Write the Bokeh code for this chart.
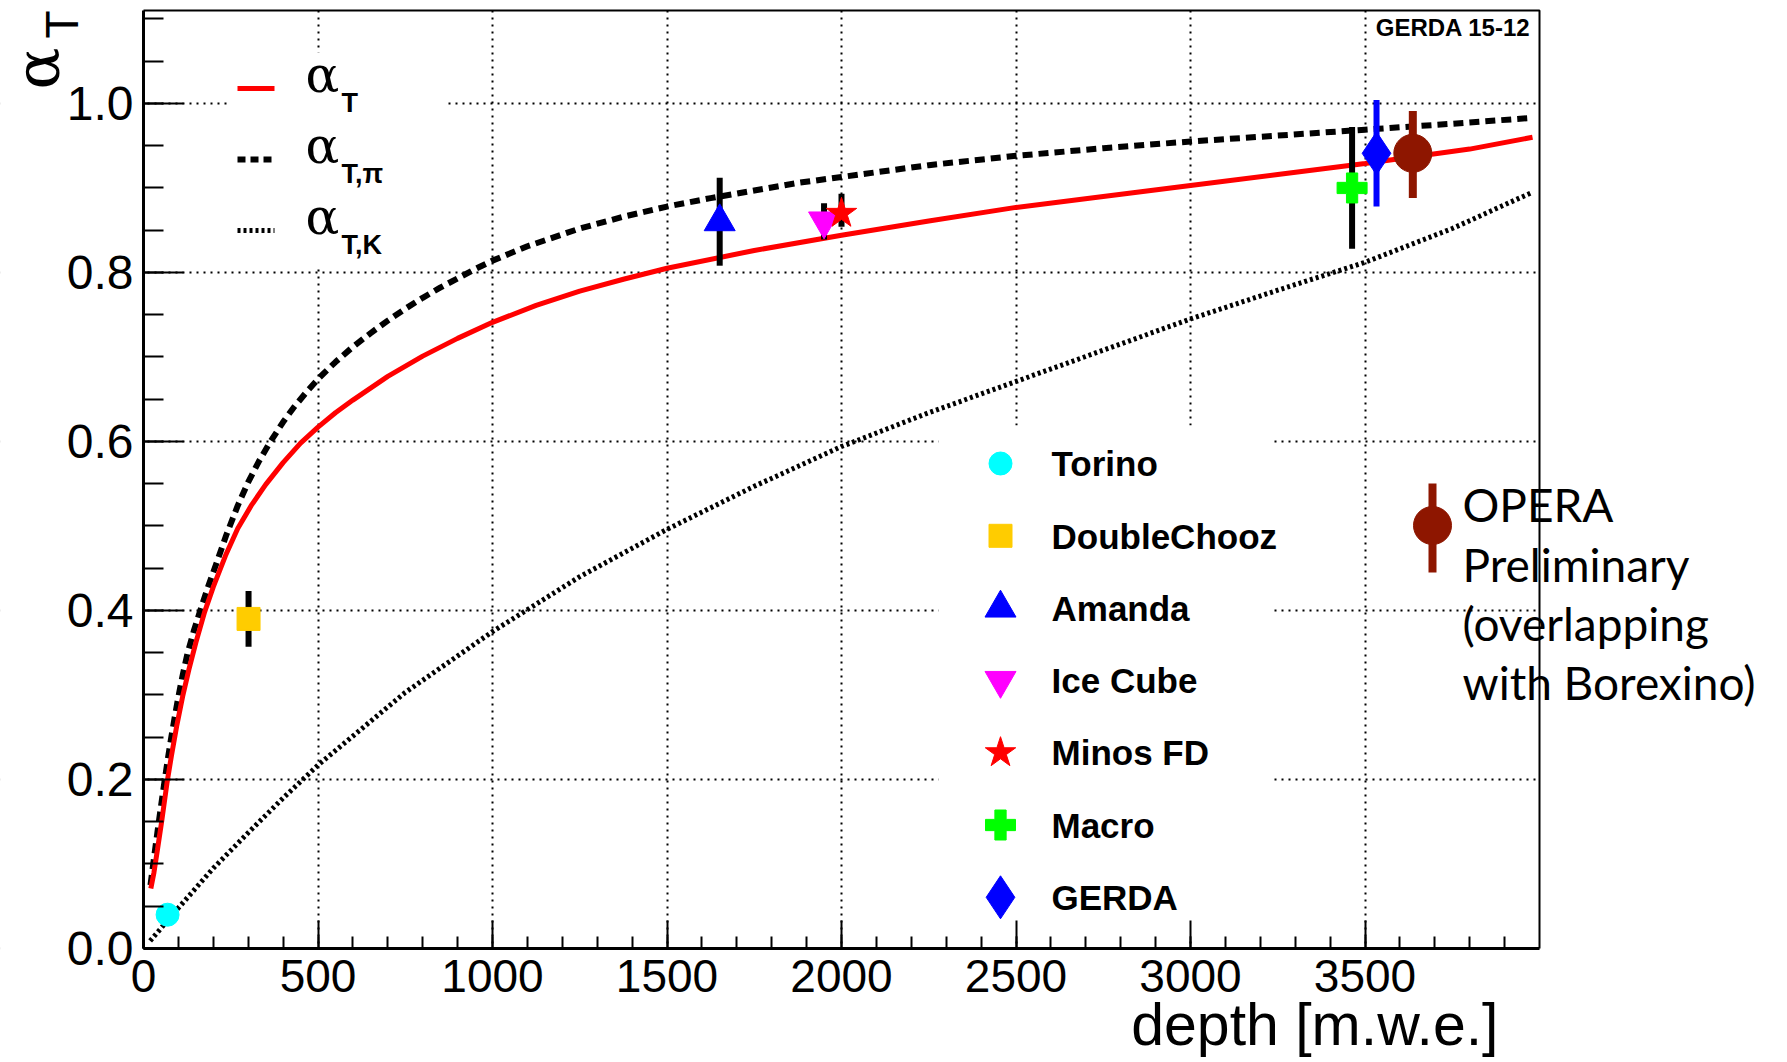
import math
from bokeh.plotting import figure
from bokeh.models import Label, FixedTicker, PrintfTickFormatter, BoxAnnotation
from bokeh.embed import file_html
from bokeh.resources import INLINE

# ---------------- data ----------------
curve_depth_T = [21, 30, 40, 52, 67, 80, 95, 112, 130, 150, 175, 200, 235, 270, 310, 350, 400, 450,
                 500, 550, 600, 700, 800, 900, 1000, 1125, 1250, 1375, 1500, 1750, 2000, 2250, 2500,
                 2750, 3000, 3250, 3500, 3800, 3980]
curve_alpha_T = [0.071, 0.090, 0.117, 0.150, 0.195, 0.228, 0.263, 0.298, 0.330, 0.362, 0.398, 0.428,
                 0.465, 0.497, 0.525, 0.549, 0.575, 0.598, 0.617, 0.634, 0.649, 0.677, 0.701, 0.722,
                 0.741, 0.761, 0.778, 0.792, 0.805, 0.826, 0.844, 0.861, 0.877, 0.890, 0.903, 0.916,
                 0.929, 0.946, 0.960]

curve_depth_pi = [20, 30, 40, 50, 60, 70, 80, 90, 100, 112, 126, 145, 165, 185, 210, 237, 270, 300,
                  330, 361, 400, 430, 470, 505, 550, 600, 650, 700, 750, 800, 850, 900, 950, 1000,
                  1100, 1250, 1375, 1500, 1625, 1750, 1875, 2000, 2250, 2500, 2750, 3000, 3250,
                  3500, 3750, 3980]
curve_alpha_pi = [0.075, 0.107, 0.138, 0.168, 0.197, 0.225, 0.251, 0.275, 0.298, 0.323, 0.349, 0.377,
                  0.403, 0.428, 0.457, 0.489, 0.524, 0.552, 0.576, 0.598, 0.623, 0.640, 0.660, 0.676,
                  0.694, 0.712, 0.728, 0.743, 0.757, 0.770, 0.782, 0.793, 0.804, 0.814, 0.831, 0.852,
                  0.866, 0.878, 0.888, 0.897, 0.906, 0.913, 0.927, 0.938, 0.947, 0.955, 0.962,
                  0.969, 0.976, 0.983]

curve_depth_K = [19, 100, 200, 300, 400, 500, 750, 1000, 1250, 1500, 1750, 2000, 2250, 2500, 2750,
                 3000, 3250, 3500, 3750, 3980]
curve_alpha_K = [0.009, 0.048, 0.095, 0.137, 0.178, 0.217, 0.303, 0.375, 0.44, 0.496, 0.547, 0.594,
                 0.634, 0.671, 0.708, 0.745, 0.779, 0.812, 0.852, 0.895]

experiments = ["Torino", "DoubleChooz", "Amanda", "Ice Cube", "Minos FD", "Macro", "GERDA"]
exp_depth = [69, 301, 1651, 1950, 2000, 3463, 3533]
exp_alpha = [0.040, 0.390, 0.860, 0.861, 0.870, 0.900, 0.941]
exp_low = [0.040, 0.357, 0.808, 0.839, 0.854, 0.828, 0.878]
exp_high = [0.040, 0.423, 0.912, 0.882, 0.893, 0.972, 1.004]

opera_depth = [3637]
opera_alpha = [0.941]
opera_low = [0.888]
opera_high = [0.991]

x_ticks = [0, 500, 1000, 1500, 2000, 2500, 3000, 3500]
x_minor = [100 * i for i in range(40)]
y_ticks = [0.0, 0.2, 0.4, 0.6, 0.8, 1.0]
y_minor = [round(0.05 * i, 2) for i in range(23)]

# ---------------- styles ----------------
exp_marker = ["circle", "square", "triangle", "inverted_triangle", "star", "plus", "diamond"]
exp_color = ["#00ffff", "#ffcc00", "#0000ff", "#ff00ff", "#ff0000", "#00ff00", "#0000ff"]
exp_size = [23, 23, 31, 31, 32, 30, 43]
exp_bar_color = ["black", "black", "black", "black", "black", "black", "#0000ff"]
OPERA_COLOR = "#8e1600"
FONT = "Liberation Sans"

# ---------------- layout (canvas px) ----------------
W, H = 1785, 1062
BOX_L, BOX_R, BOX_T, BOX_B = 143, 1539, 10, 948
XMAX, YMAX = 4000.0, 1.11
SX = (BOX_R - BOX_L) / XMAX
SY = (BOX_B - BOX_T) / YMAX


def dx(px):
    return (px - BOX_L) / SX


def dy(py):
    return (BOX_B - py) / SY


p = figure(width=W, height=H, x_range=(dx(0), dx(W)), y_range=(dy(H), dy(0)),
           output_backend="svg", toolbar_location=None,
           min_border_left=0, min_border_right=0, min_border_top=0, min_border_bottom=0)
p.background_fill_color = "white"
p.border_fill_color = "white"
p.outline_line_color = None

for ax in (p.xaxis[0], p.yaxis[0]):
    ax.fixed_location = 0
    ax.axis_line_width = 3
    ax.axis_line_color = "black"
    ax.major_tick_line_width = 2
    ax.minor_tick_line_width = 2
    ax.major_tick_out = 0
    ax.minor_tick_out = 0
    ax.major_label_text_font = FONT
    ax.major_label_text_color = "black"

p.xaxis.bounds = (0, XMAX)
p.xaxis.ticker = FixedTicker(ticks=x_ticks, minor_ticks=x_minor)
p.xaxis.major_tick_in = 28
p.xaxis.minor_tick_in = 12
p.xaxis.major_label_text_font_size = "46px"
p.xaxis.major_label_standoff = 11

p.yaxis.bounds = (0, YMAX)
p.yaxis.ticker = FixedTicker(ticks=y_ticks, minor_ticks=y_minor)
p.yaxis.formatter = PrintfTickFormatter(format="%.1f")
p.yaxis.major_tick_in = 40
p.yaxis.minor_tick_in = 20
p.yaxis.major_label_text_font_size = "48px"
p.yaxis.major_label_standoff = 10

p.xgrid.ticker = FixedTicker(ticks=x_ticks)
p.ygrid.ticker = FixedTicker(ticks=y_ticks)
for g in (p.xgrid[0], p.ygrid[0]):
    g.grid_line_color = "black"
    g.grid_line_dash = "2 5"
    g.grid_line_width = 2

# white covers: outside the plot box and behind both legends (hide grid lines there)
E = 30
covers_l = [dx(-E), dx(BOX_R), dx(-E), dx(-E), dx(227), dx(938)]
covers_r = [0, dx(W + E), dx(W + E), dx(W + E), dx(447), dx(1272)]
covers_t = [dy(-E), dy(-E), dy(BOX_B), dy(-E), dy(52), dy(425)]
covers_b = [dy(H + E), dy(H + E), dy(H + E), dy(BOX_T), dy(265), dy(936)]
p.quad(left=covers_l, right=covers_r, top=covers_t, bottom=covers_b, fill_color="white", line_color=None)

# frame top/right borders
p.line([0, XMAX, XMAX], [YMAX, YMAX, 0], line_color="black", line_width=2)

# curves
p.line(curve_depth_K, curve_alpha_K, line_color="black", line_width=5, line_dash="3 3")
p.line(curve_depth_pi, curve_alpha_pi, line_color="black", line_width=6, line_dash="10 6")
p.line(curve_depth_T, curve_alpha_T, line_color="red", line_width=5)

# error bars and points
p.segment(x0=exp_depth, y0=exp_low, x1=exp_depth, y1=exp_high,
          line_color=exp_bar_color, line_width=6)
p.segment(x0=opera_depth, y0=opera_low, x1=opera_depth, y1=opera_high,
          line_color=OPERA_COLOR, line_width=8)
for i in range(len(experiments)):
    p.scatter([exp_depth[i]], [exp_alpha[i]], marker=exp_marker[i], size=exp_size[i],
              fill_color=exp_color[i], line_color=exp_color[i])
p.scatter(opera_depth, opera_alpha, marker="circle", size=38,
          fill_color=OPERA_COLOR, line_color=OPERA_COLOR)

# strip at the very left edge of the canvas kept blank
p.add_layout(BoxAnnotation(left=dx(-E), right=dx(9), top=dy(-E), bottom=dy(H + E),
                           fill_color="white", fill_alpha=1.0, line_color=None))


def label(x, y_base, text, font, size, style="normal", align="left", angle=0.0, k=0.35):
    # y_base: baseline in canvas px; the Label is anchored at the middle of its text box
    if angle == 0.0:
        return Label(x=dx(x), y=dy(y_base - k * size), text=text, text_font=font,
                     text_font_size=f"{size}px", text_font_style=style, text_align=align,
                     text_baseline="middle", text_color="black")
    return Label(x=dx(x - k * size), y=dy(y_base), text=text, text_font=font,
                 text_font_size=f"{size}px", text_font_style=style, text_align=align,
                 text_baseline="middle", text_color="black", angle=angle)


# ---------- top-left legend (curves) ----------
leg_styles = [dict(line_color="red", line_width=5),
              dict(line_color="black", line_width=6, line_dash="8 5"),
              dict(line_color="black", line_width=5, line_dash="3 3")]
leg_sub = ["T", "T,\u03c0", "T,K"]
row_y = [88, 159, 230]
for i in range(3):
    p.segment(x0=[dx(237)], y0=[dy(row_y[i])], x1=[dx(274)], y1=[dy(row_y[i])], **leg_styles[i])
    p.add_layout(label(305, row_y[i] + 4, "\u03b1", "DejaVu Serif", 50))
    p.add_layout(label(341, row_y[i] + 24, leg_sub[i], FONT, 27, style="bold"))

# ---------- lower-right legend (experiments) ----------
for i in range(len(experiments)):
    ry = 463 + i * 72.3
    p.scatter([dx(1000)], [dy(ry)], marker=exp_marker[i], size=exp_size[i],
              fill_color=exp_color[i], line_color=exp_color[i])
    p.add_layout(label(1051, ry + 12.5, experiments[i], FONT, 35, style="bold"))

# OPERA legend symbol and note
p.segment(x0=[dx(1432)], y0=[dy(572)], x1=[dx(1432)], y1=[dy(483)], line_color=OPERA_COLOR, line_width=8)
p.scatter([dx(1432)], [dy(525)], marker="circle", size=38, fill_color=OPERA_COLOR, line_color=OPERA_COLOR)
opera_lines = ["OPERA", "Preliminary", "(overlapping", "with Borexino)"]
opera_base = [522, 582, 641, 700]
for t, b in zip(opera_lines, opera_base):
    p.add_layout(label(1462, b, t, "Lato", 46, k=0.387))

# tag
p.add_layout(label(1530, 35, "GERDA 15-12", FONT, 24, style="bold", align="right"))

# axis titles
p.add_layout(label(1498, 1045, "depth [m.w.e.]", FONT, 59, align="right"))
p.add_layout(label(58, 89, "\u03b1", "DejaVu Serif", 62, angle=math.pi / 2, k=0.346))
p.add_layout(label(78, 38, "T", FONT, 46, angle=math.pi / 2))

open("out.html", "w").write(file_html(p, INLINE))
